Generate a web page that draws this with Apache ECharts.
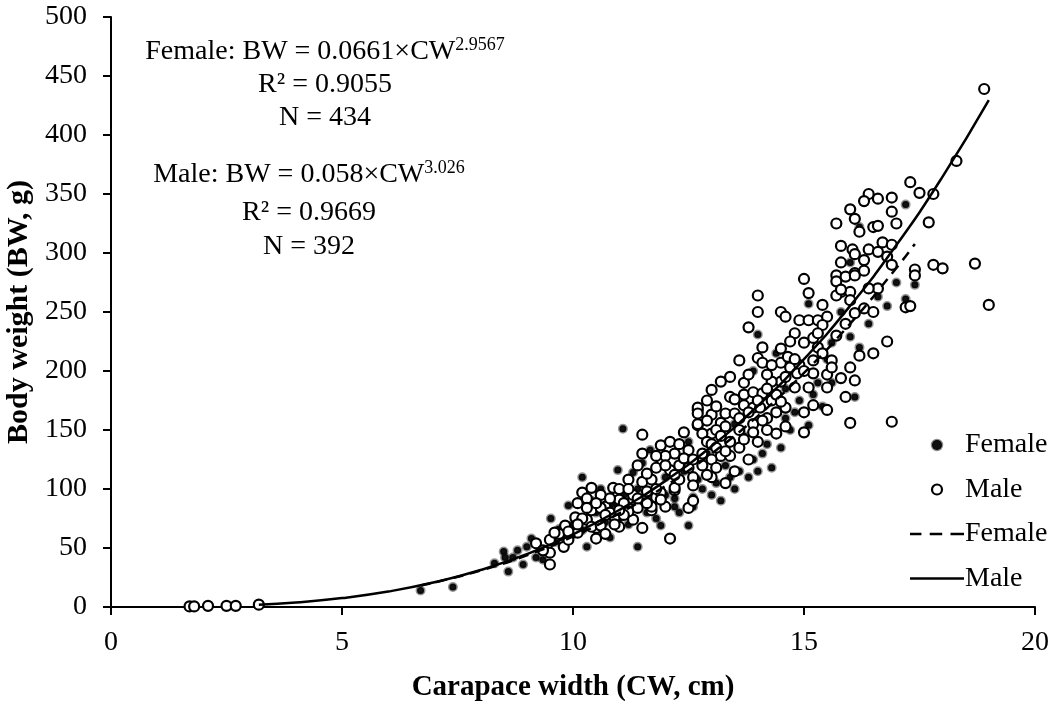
<!DOCTYPE html>
<html>
<head>
<meta charset="utf-8">
<title>Body weight vs carapace width</title>
<script src="https://cdn.jsdelivr.net/npm/echarts@6/dist/echarts.min.js"></script>
<style>
  html, body { margin: 0; padding: 0; background: #fff; }
  #chart { width: 1059px; height: 701px; }
</style>
</head>
<body>
<div id="chart"></div>
<script>
// 坐标轴刻度
var xTicks = [0, 5, 10, 15, 20];
var yTicks = [0, 50, 100, 150, 200, 250, 300, 350, 400, 450, 500];

// 雌性散点 [CW, BW]
var femalePoints = [
  [6.7, 14], [7.4, 17], [8.3, 37], [8.5, 47], [8.6, 30], [8.53, 42], [8.7, 42], [8.92, 36],
  [9.0, 51], [9.2, 42], [9.52, 75], [9.35, 40], [11.08, 151], [10.2, 110], [9.9, 86], [11.4, 51],
  [10.97, 116], [11.3, 114], [11.67, 133], [10.8, 59], [10.3, 51], [12.5, 69], [11.9, 69], [12.3, 80],
  [12.6, 93], [14.0, 231], [15.1, 257], [15.1, 154], [16.1, 178], [16.2, 220], [16.0, 229], [15.6, 224],
  [17.2, 341], [16.2, 322], [17.4, 273], [17.2, 261], [16.6, 263], [16.0, 292],
  [9.6, 55], [9.8, 60], [10.0, 70], [10.2, 65], [10.5, 80], [10.7, 72], [10.9, 88], [11.1, 95],
  [11.2, 70], [11.4, 100], [11.6, 90], [11.8, 75], [12.0, 110], [12.2, 92], [12.4, 115], [12.8, 100],
  [13.0, 95], [13.3, 120], [13.5, 100], [13.8, 110], [14.0, 115], [14.3, 118], [14.5, 135], [13.2, 90],
  [12.6, 85], [14.1, 130], [14.7, 150], [14.9, 175], [15.3, 190], [14.6, 185], [15.5, 210], [13.7, 145],
  [14.2, 160], [12.9, 130], [11.5, 122], [10.6, 100], [13.9, 200], [14.4, 215], [15.8, 250], [16.4, 240],
  [16.8, 255], [17.0, 275], [15.4, 170], [13.5, 155], [12.5, 140], [10.4, 90], [9.7, 66], [9.1, 58],
  [8.8, 48],
  [13.1, 105], [13.6, 115], [13.9, 125], [14.2, 138], [14.6, 160], [12.7, 108], [12.2, 85], [11.6, 80],
  [11.0, 75], [10.8, 85], [15.2, 180], [14.8, 165], [15.6, 190], [13.4, 110], [12.0, 95]
];

// 雄性散点 [CW, BW]
var malePoints = [
  [1.7, 0.5], [1.8, 0.5], [2.1, 1], [2.5, 1], [2.7, 1], [3.2, 2],
  [9.2, 54], [9.5, 57], [9.5, 46], [9.5, 36], [9.65, 63], [9.35, 48], [9.7, 62], [9.83, 69],
  [10.0, 63], [10.05, 76], [10.2, 97], [10.4, 101], [10.6, 95], [10.87, 101], [11.2, 108], [11.5, 106],
  [11.7, 108], [11.5, 146], [11.5, 130], [11.9, 137], [12.1, 140], [12.2, 130], [11.93, 123], [12.1, 116],
  [12.2, 99], [12.0, 85], [12.1, 58], [11.5, 67], [11.3, 74], [11.0, 68], [10.5, 58], [10.7, 85],
  [10.3, 74], [10.9, 76], [11.2, 81], [11.7, 82], [11.8, 93], [11.3, 91], [10.5, 67], [9.8, 51],
  [10.1, 63], [10.4, 68], [10.6, 69], [10.4, 82], [11.0, 91], [11.3, 95], [11.6, 113], [12.4, 148],
  [12.7, 167], [12.7, 154], [12.5, 133], [12.3, 120], [12.6, 110], [12.6, 103], [12.5, 84], [11.9, 97],
  [12.2, 101], [11.4, 84], [11.7, 85], [11.9, 91], [10.8, 80], [10.2, 75], [9.6, 63],
  [15.0, 278], [15.1, 266], [14.0, 264], [14.0, 250], [13.8, 237], [14.5, 250], [14.6, 246], [14.9, 243],
  [15.1, 243], [15.3, 243], [15.5, 246], [15.4, 239], [15.7, 281], [15.8, 292], [15.8, 267], [16.0, 267],
  [16.1, 283], [15.7, 264], [14.8, 232], [15.0, 224], [15.2, 228], [15.3, 220], [14.1, 220], [13.6, 209],
  [14.0, 211], [14.1, 207], [14.5, 219], [14.5, 207], [14.65, 212], [14.7, 203], [14.9, 205], [14.85, 198],
  [15.2, 209], [15.2, 198], [15.5, 197], [15.6, 209], [15.6, 203], [16.0, 203], [15.8, 194], [15.5, 186],
  [15.9, 178], [16.0, 156], [15.5, 167], [15.2, 171], [15.0, 165], [15.0, 148], [15.1, 186], [14.8, 186],
  [14.5, 191], [14.3, 191], [14.2, 197], [13.4, 195], [13.2, 191], [13.0, 184], [12.7, 169], [12.7, 164],
  [13.0, 163], [13.3, 164], [13.5, 164], [13.7, 180], [13.7, 171], [13.9, 182], [14.1, 181], [13.9, 169],
  [14.05, 169], [14.3, 175], [14.4, 165], [14.6, 169], [14.2, 160], [13.2, 156], [13.3, 153], [13.0, 147],
  [12.8, 147], [14.4, 147], [14.6, 153], [13.7, 190], [12.7, 155],
  [17.3, 360], [17.5, 351], [17.8, 350], [17.7, 326], [16.4, 350], [16.3, 344], [16.6, 346], [16.9, 347],
  [16.9, 335], [17.0, 325], [16.0, 337], [16.1, 329], [16.2, 318], [15.7, 325], [16.5, 322], [16.6, 323],
  [16.7, 309], [16.9, 307], [15.8, 306], [16.05, 303], [16.4, 303], [16.6, 301], [16.1, 299], [16.3, 294],
  [16.8, 297], [16.9, 290], [17.8, 290], [18.0, 287], [17.4, 286], [17.4, 281], [15.7, 276], [15.9, 280],
  [16.1, 281], [15.8, 269], [16.0, 260], [16.1, 249], [16.3, 253], [16.5, 250], [16.6, 270], [16.4, 270],
  [17.2, 254], [17.3, 255], [18.9, 439], [18.3, 378], [18.7, 291], [19.0, 256], [16.8, 225], [16.9, 157],
  [16.5, 215], [16.2, 213], [16.1, 192],
  [12.8, 120], [13.0, 110], [13.2, 128], [13.3, 105], [13.5, 115], [13.6, 135], [13.8, 125], [14.0, 140],
  [12.9, 140], [13.1, 150], [13.4, 140], [12.6, 90], [13.0, 125], [13.6, 150], [14.2, 150], [13.9, 155],
  [13.4, 178], [12.9, 175],
  [10.1, 88], [10.3, 92], [10.6, 84], [10.8, 92], [11.0, 100], [11.1, 88], [11.4, 120], [11.6, 98],
  [11.8, 118], [12.0, 128], [12.3, 138], [12.4, 126], [12.9, 158], [13.1, 170], [13.5, 176], [13.8, 197],
  [14.3, 205], [14.7, 225], [15.4, 256], [15.9, 240], [9.9, 57], [10.7, 62], [11.1, 78], [12.3, 108],
  [12.5, 118], [12.8, 130], [13.0, 138], [13.2, 145], [13.4, 128], [13.6, 160], [13.8, 165], [14.0, 175],
  [14.2, 185], [12.9, 112], [13.1, 118], [13.3, 132], [13.7, 142], [14.1, 158], [14.4, 180], [14.6, 195],
  [14.8, 210], [15.0, 200], [15.3, 232], [12.2, 112], [12.0, 120], [11.8, 100], [11.6, 88], [11.4, 92],
  [11.2, 100], [11.0, 82], [10.9, 70], [10.7, 78], [10.5, 88], [10.3, 84], [10.1, 70], [9.9, 64],
  [11.8, 128], [12.6, 125], [13.1, 135], [13.9, 148], [14.5, 174], [15.4, 215], [15.7, 230], [16.3, 285]
];

// 幂函数拟合曲线取值 (BW = a×CW^b)
var femaleFitCW = [6.7, 7, 8, 9, 10, 11, 12, 13, 14, 15, 16, 17, 17.4];
var femaleFitBW = [18.3, 20.8, 30.9, 43.8, 59.8, 79.3, 102.6, 130.0, 161.8, 198.4, 240.1, 287.3, 307.7];
var maleFitCW = [3.2, 4, 5, 6, 7, 8, 9, 10, 11, 12, 13, 14, 15, 16, 17, 18, 19];
var maleFitBW = [1.96, 3.85, 7.56, 13.1, 20.9, 31.3, 44.8, 61.6, 82.2, 106.9, 136.2, 170.5, 210.0, 255.3, 306.7, 364.7, 429.5];

function pairs(xs, ys) {
    var out = [];
    for (var i = 0; i < xs.length; i++) {
        out.push([xs[i], ys[i]]);
    }
    return out;
}

var FONT = "'Liberation Serif', 'Times New Roman', serif";

// 图例里的线形图标 (细长矩形路径)
var SOLID_ICON = 'path://M0,0h54v2.6h-54z';
var DASH_ICON = 'path://M0,0h11v2.6h-11z M19,0h12v2.6h-12z M39,0h13v2.6h-13z';

// 方程文字 (带上标)
function eqText(x, y, main, sup) {
    return {
        type: 'text', x: x, y: y,
        style: {
            text: '{a|' + main + '}{s|' + sup + '}',
            textAlign: 'center', textVerticalAlign: 'middle',
            rich: {
                a: { fontFamily: FONT, fontSize: 28, lineHeight: 32, fill: '#000' },
                s: { fontFamily: FONT, fontSize: 18, lineHeight: 32, verticalAlign: 'top', fill: '#000' }
            }
        }
    };
}
function plainText(x, y, txt) {
    return {
        type: 'text', x: x, y: y,
        style: { text: txt, font: '28px ' + FONT, fill: '#000', textAlign: 'center', textVerticalAlign: 'middle' }
    };
}

var option = {
    animation: false,
    backgroundColor: '#fff',
    textStyle: { fontFamily: FONT },
    grid: { left: 111, right: 24, top: 17, bottom: 94, containLabel: false, outerBoundsMode: 'none' },
    xAxis: {
        type: 'value',
        min: xTicks[0],
        max: xTicks[xTicks.length - 1],
        interval: 5,
        name: 'Carapace width (CW, cm)',
        nameLocation: 'middle',
        nameGap: 66,
        nameTextStyle: { fontFamily: FONT, fontSize: 29, fontWeight: 'bold', color: '#000' },
        axisLine: { show: true, lineStyle: { color: '#000', width: 2 } },
        axisTick: { show: true, length: 8, lineStyle: { color: '#000', width: 2 } },
        axisLabel: { fontFamily: FONT, fontSize: 28, color: '#000', margin: 22 },
        splitLine: { show: false }
    },
    yAxis: {
        type: 'value',
        min: yTicks[0],
        max: yTicks[yTicks.length - 1],
        interval: 50,
        name: 'Body weight (BW, g)',
        nameLocation: 'middle',
        nameGap: 74,
        nameTextStyle: { fontFamily: FONT, fontSize: 30, fontWeight: 'bold', color: '#000' },
        axisLine: { show: true, lineStyle: { color: '#000', width: 2 } },
        axisTick: { show: true, length: 8, lineStyle: { color: '#000', width: 2 } },
        axisLabel: { fontFamily: FONT, fontSize: 28, color: '#000', margin: 24 },
        splitLine: { show: false }
    },
    legend: {
        orient: 'vertical',
        left: 905,
        top: 426,
        itemWidth: 54,
        itemHeight: 10,
        itemGap: 16.5,
        textStyle: { fontFamily: FONT, fontSize: 28, color: '#000', padding: [0, 0, 0, -4] },
        formatter: function (name) { return name.replace(' fit', ''); },
        data: [
            { name: 'Female', icon: 'circle', itemStyle: { color: '#111', borderColor: 'rgba(0,0,0,0.45)', borderWidth: 2.5 } },
            { name: 'Male', icon: 'circle', itemStyle: { color: '#fff', borderColor: '#000', borderWidth: 2.2 } },
            { name: 'Female fit', icon: DASH_ICON, itemStyle: { color: '#000', borderWidth: 0 } },
            { name: 'Male fit', icon: SOLID_ICON, itemStyle: { color: '#000', borderWidth: 0 } }
        ]
    },
    graphic: [
        eqText(325, 52, 'Female: BW = 0.0661×CW', '2.9567'),
        plainText(325, 85, 'R² = 0.9055'),
        plainText(325, 118, 'N = 434'),
        eqText(309, 175, 'Male: BW = 0.058×CW', '3.026'),
        plainText(309, 213, 'R² = 0.9669'),
        plainText(309, 247, 'N = 392')
    ],
    series: [
        {
            name: 'Female',
            type: 'scatter',
            symbol: 'circle',
            symbolSize: 7,
            z: 2,
            itemStyle: { color: '#111', borderColor: 'rgba(0,0,0,0.42)', borderWidth: 3, opacity: 1 },
            data: femalePoints
        },
        {
            name: 'Male',
            type: 'scatter',
            symbol: 'circle',
            symbolSize: 10,
            z: 3,
            itemStyle: { color: '#fff', borderColor: '#000', borderWidth: 2.2, opacity: 1 },
            data: malePoints
        },
        {
            name: 'Female fit',
            type: 'line',
            smooth: true,
            symbol: 'none',
            z: 4,
            itemStyle: { color: '#000' },
            lineStyle: { color: '#000', width: 2.5, type: [10, 7] },
            data: pairs(femaleFitCW, femaleFitBW)
        },
        {
            name: 'Male fit',
            type: 'line',
            smooth: true,
            symbol: 'none',
            z: 5,
            itemStyle: { color: '#000' },
            lineStyle: { color: '#000', width: 2.5 },
            data: pairs(maleFitCW, maleFitBW)
        }
    ]
};

var myChart = echarts.init(document.getElementById('chart'));
myChart.setOption(option, true);
</script>
</body>
</html>
